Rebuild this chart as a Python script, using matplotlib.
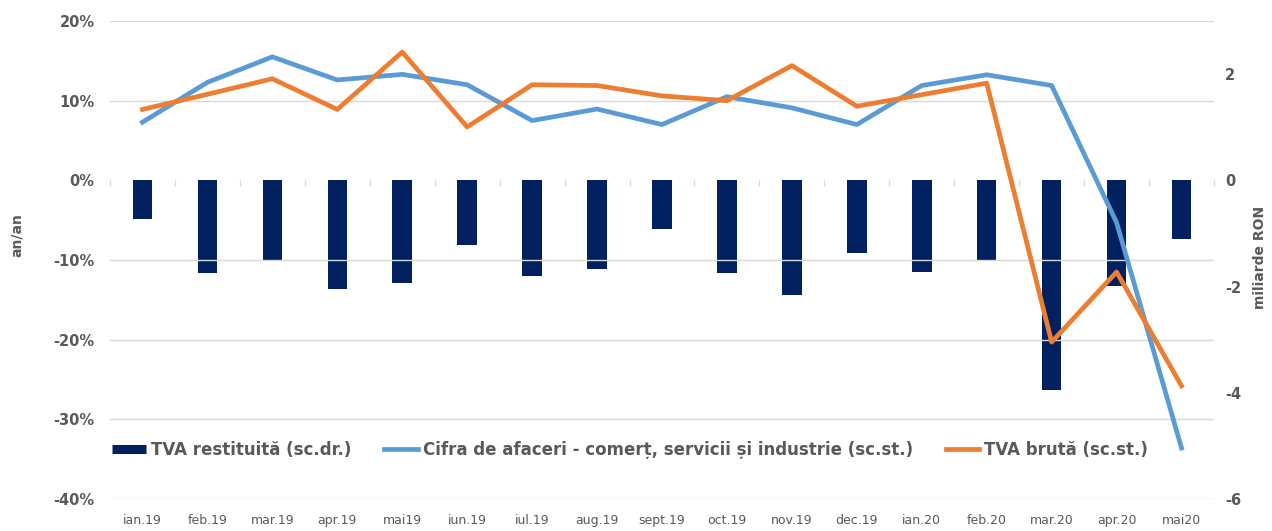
import matplotlib
matplotlib.use("Agg")
import matplotlib.pyplot as plt
from matplotlib.lines import Line2D
from matplotlib.ticker import FuncFormatter, NullFormatter

# data
luni = ["ian.19", "feb.19", "mar.19", "apr.19", "mai19", "iun.19", "iul.19",
        "aug.19", "sept.19", "oct.19", "nov.19", "dec.19", "ian.20", "feb.20",
        "mar.20", "apr.20", "mai20"]
tva_restituita = [-0.72, -1.75, -1.50, -2.04, -1.94, -1.22, -1.80, -1.67, -0.92,
                  -1.74, -2.16, -1.37, -1.72, -1.50, -3.95, -1.99, -1.10]   # miliarde RON
cifra_afaceri = [7.3, 12.3, 15.5, 12.6, 13.3, 12.0, 7.5, 8.95, 7.0,
                 10.5, 9.1, 7.0, 11.9, 13.25, 11.9, -5.3, -33.6]           # % an/an
tva_bruta = [8.9, 10.8, 12.75, 8.9, 16.1, 6.7, 12.0, 11.9, 10.6,
             10.0, 14.4, 9.3, 10.75, 12.2, -20.3, -11.5, -25.8]            # % an/an

ticks_st = [-40, -30, -20, -10, 0, 10, 20]
ticks_dr = [-6, -4, -2, 0, 2]

gri = "#595959"
bleumarin = "#002060"
albastru = "#5B9BD5"
portocaliu = "#ED7D31"

fig = plt.figure(figsize=(12.72, 5.31), dpi=100)
ax = fig.add_axes([110 / 1272, 32 / 531, 1104 / 1272, 478 / 531])   # bars, right scale
ax2 = ax.twinx()                                                    # lines, left scale

x = list(range(len(luni)))

# bars (sc.dr.)
ax.bar(x, tva_restituita, width=0.3, color=bleumarin, zorder=2)
ax.set_ylim(-6, 3)
ax.set_yticks(ticks_dr)
ax.yaxis.set_major_formatter(FuncFormatter(lambda v, p: "%d" % v))
ax.yaxis.tick_right()
ax.yaxis.set_label_position("right")
ax.set_ylabel("miliarde RON", color=gri, fontsize=10, fontweight="bold")
ax.yaxis.set_label_coords(1.035, 0.506)
ax.tick_params(axis="y", length=0, colors=gri, labelsize=10.5, pad=8)
for t in ax.get_yticklabels():
    t.set_fontweight("bold")

ax.set_xlim(-0.5, len(luni) - 0.5)
ax.set_xticks(x)
ax.set_xticklabels(luni)
ax.tick_params(axis="x", length=0, colors=gri, labelsize=9, pad=11)

for s in ax.spines.values():
    s.set_visible(False)

# lines (sc.st.)
ax2.plot(x, cifra_afaceri, color=albastru, lw=3.4, zorder=3)
ax2.plot(x, tva_bruta, color=portocaliu, lw=3.4, zorder=4)
ax2.set_ylim(-40, 20)
ax2.set_yticks(ticks_st)
ax2.yaxis.tick_left()
ax2.yaxis.set_label_position("left")
ax2.yaxis.set_major_formatter(FuncFormatter(lambda v, p: "%d%%" % v))
ax2.set_ylabel("an/an", color=gri, fontsize=10, fontweight="bold")
ax2.yaxis.set_label_coords(-0.078, 0.552)
ax2.tick_params(axis="y", length=0, colors=gri, labelsize=10.5, pad=11)
for t in ax2.get_yticklabels():
    t.set_fontweight("bold")
for s in ax2.spines.values():
    s.set_visible(False)

# gridlines (none at 0)
for v in ticks_st:
    if v != 0:
        ax2.axhline(v, color="#D9D9D9", lw=1, zorder=0)

# category boundary ticks on the zero line
sec = ax2.secondary_xaxis(40 / 60)
sec.xaxis.set_ticks_position("bottom")
sec.set_xticks([i + 0.5 for i in range(-1, len(luni))])
sec.xaxis.set_major_formatter(NullFormatter())
sec.tick_params(axis="x", direction="out", length=4, color="#D9D9D9", width=1)
for s in sec.spines.values():
    s.set_visible(False)

handles = [Line2D([], [], color=bleumarin, lw=6.5, solid_capstyle="butt"),
           Line2D([], [], color=albastru, lw=3.4),
           Line2D([], [], color=portocaliu, lw=3.4)]
labels = ["TVA restituită (sc.dr.)",
          "Cifra de afaceri - comerț, servicii și industrie (sc.st.)",
          "TVA brută (sc.st.)"]
leg = ax2.legend(handles, labels, loc="center left", bbox_to_anchor=(0.002, 0.1025), ncol=3,
                 frameon=False, handlelength=2.0, handletextpad=0.3, columnspacing=2.0,
                 borderpad=0, borderaxespad=0, prop={"size": 12, "weight": "bold"})
for t in leg.get_texts():
    t.set_color(gri)

fig.savefig("out.png", dpi=100)
